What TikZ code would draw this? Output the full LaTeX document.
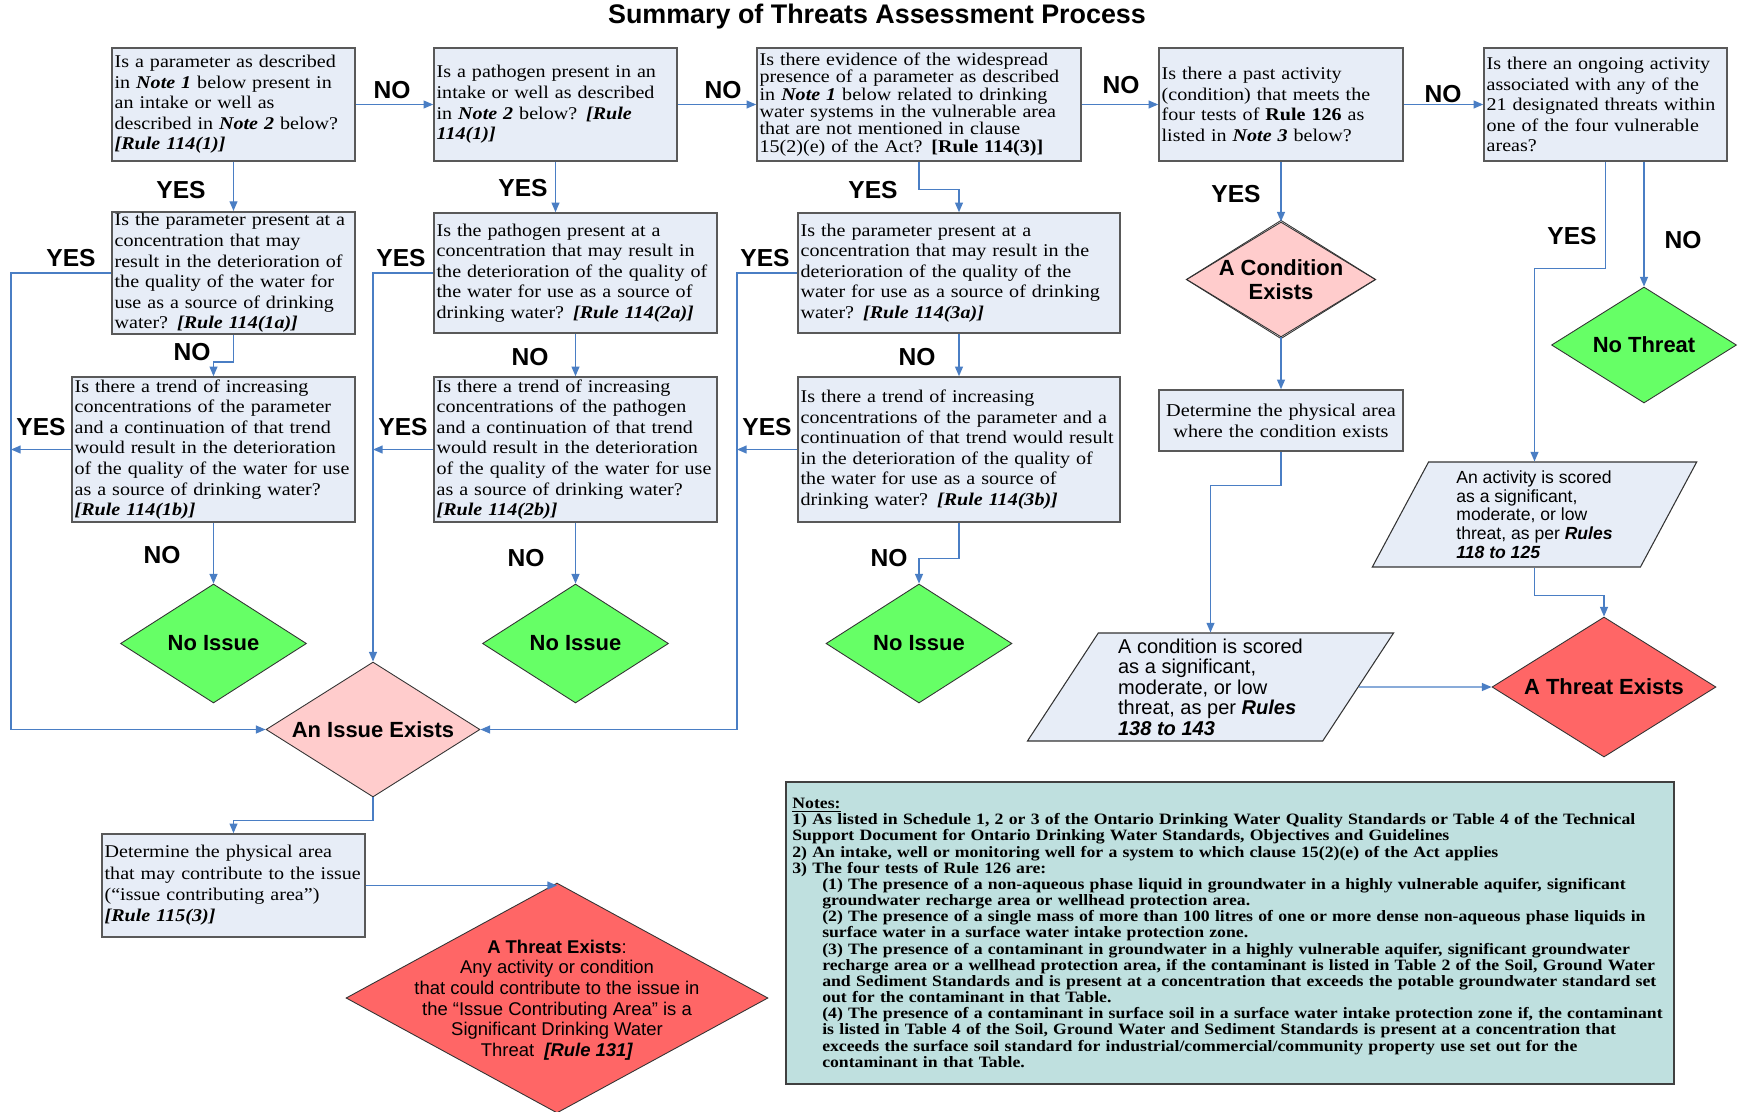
\documentclass[tikz,border=0pt]{standalone}
\usepackage{fontspec}
\setmainfont{Liberation Serif}[FakeStretch=1.12]
\setsansfont{Liberation Sans}
\usetikzlibrary{arrows.meta,shapes.geometric}
\definecolor{boxfill}{HTML}{E7EDF7}
\definecolor{linkblue}{HTML}{4A7EC4}
\definecolor{noissue}{HTML}{66FF66}
\definecolor{issuepink}{HTML}{FFCCCC}
\definecolor{threatred}{HTML}{FF6666}
\definecolor{notesfill}{HTML}{BFE0DF}
\newcommand\boldit[1]{\textbf{\textit{#1}}}
\newcommand\ind{\hspace*{17pt}}
\tikzset{
  qbox/.style={draw=black!65, line width=0.9pt, fill=boxfill, align=left,
    font=\fontsize{10.2}{11.7}\selectfont, inner xsep=1.5pt, inner ysep=1pt},
  dia/.style={diamond, draw=black!80, line width=0.5pt, aspect=1.6,
    inner sep=0pt, font=\sffamily\bfseries\fontsize{12.5}{14}\selectfont},
  diatext/.style={align=center, inner sep=0pt},
  para/.style={trapezium, trapezium stretches=true, draw=black!80,
    line width=0.6pt, fill=boxfill, align=left, inner sep=1pt},
  yn/.style={font=\sffamily\bfseries\fontsize{14}{14}\selectfont, inner sep=0pt},
  arrw/.style={-{Triangle[length=5.5pt, width=4.5pt]}, draw=linkblue,
    line width=0.8pt},
}
\begin{document}
\begin{tikzpicture}[x=0.02cm, y=-0.02cm]
  \useasboundingbox (0,0) rectangle (1738,1112);

  \node[font=\sffamily\bfseries\fontsize{15.3}{15}\selectfont] (title) at (877,17)
    {Summary of Threats Assessment Process};

  % first row of questions
  \node[qbox, text width=4.755cm, minimum height=2.26cm] (param) at (233.5,104.5)
    {Is a parameter as described\\ in \boldit{Note 1} below present in\\
     an intake or well as\\ described in \boldit{Note 2} below?\\
     \boldit{[Rule 114(1)]}};
  \node[qbox, text width=4.755cm, minimum height=2.26cm] (patho) at (555.5,104.5)
    {Is a pathogen present in an\\ intake or well as described\\
     in \boldit{Note 2} below? \boldit{[Rule}\\ \boldit{114(1)]}};
  \node[qbox, text width=6.375cm, minimum height=2.26cm,
    font=\fontsize{10.2}{9.9}\selectfont] (wide) at (919,104.5)
    {Is there evidence of the widespread\\ presence of a parameter as described\\
     in \boldit{Note 1} below related to drinking\\ water systems in the vulnerable area\\
     that are not mentioned in clause\\ 15(2)(e) of the Act? \textbf{[Rule 114(3)]}};
  \node[qbox, text width=4.775cm, minimum height=2.26cm] (past) at (1281,104.5)
    {Is there a past activity\\ (condition) that meets the\\
     four tests of \textbf{Rule 126} as\\ listed in \boldit{Note 3} below?};
  \node[qbox, text width=4.755cm, minimum height=2.26cm] (ongoing) at (1605.5,104.5)
    {Is there an ongoing activity\\ associated with any of the\\
     21 designated threats within\\ one of the four vulnerable\\ areas?};

  % concentration questions
  \node[qbox, text width=4.755cm, minimum height=2.4cm] (paramconc) at (233.5,273)
    {Is the parameter present at a\\ concentration that may\\
     result in the deterioration of\\ the quality of the water for\\
     use as a source of drinking\\ water? \boldit{[Rule 114(1a)]}};
  \node[qbox, text width=5.555cm, minimum height=2.4cm] (pathoconc) at (575.5,273)
    {Is the pathogen present at a\\ concentration that may result in\\
     the deterioration of the quality of\\ the water for use as a source of\\
     drinking water? \boldit{[Rule 114(2a)]}};
  \node[qbox, text width=6.335cm, minimum height=2.4cm] (wideconc) at (959,273)
    {Is the parameter present at a\\ concentration that may result in the\\
     deterioration of the quality of the\\ water for use as a source of drinking\\
     water? \boldit{[Rule 114(3a)]}};

  % trend questions
  \node[qbox, text width=5.555cm, minimum height=2.9cm] (paramtrend) at (213.5,449.5)
    {Is there a trend of increasing\\ concentrations of the parameter\\
     and a continuation of that trend\\ would result in the deterioration\\
     of the quality of the water for use\\ as a source of drinking water?\\
     \boldit{[Rule 114(1b)]}};
  \node[qbox, text width=5.555cm, minimum height=2.9cm] (pathotrend) at (575.5,449.5)
    {Is there a trend of increasing\\ concentrations of the pathogen\\
     and a continuation of that trend\\ would result in the deterioration\\
     of the quality of the water for use\\ as a source of drinking water?\\
     \boldit{[Rule 114(2b)]}};
  \node[qbox, text width=6.335cm, minimum height=2.9cm] (widetrend) at (959,449.5)
    {Is there a trend of increasing\\ concentrations of the parameter and a\\
     continuation of that trend would result\\ in the deterioration of the quality of\\
     the water for use as a source of\\ drinking water? \boldit{[Rule 114(3b)]}};

  % outcomes
  \node[dia, fill=noissue, minimum width=3.72cm, minimum height=2.38cm] (noissueA) at (213.5,643.5) {No Issue};
  \node[dia, fill=noissue, minimum width=3.72cm, minimum height=2.38cm] (noissueB) at (575.5,643.5) {No Issue};
  \node[dia, fill=noissue, minimum width=3.72cm, minimum height=2.38cm] (noissueC) at (919,643.5) {No Issue};
  \node[dia, fill=issuepink, minimum width=4.28cm, minimum height=2.7cm] (issue) at (373,729.5) {An Issue Exists};
  \node[dia, fill=issuepink, minimum width=3.78cm, minimum height=2.3cm] (cond) at (1281,279.5) {};
  \node[dia, diatext] (condtxt) at (cond) {A Condition\\Exists};
  \node[dia, fill=noissue, minimum width=3.7cm, minimum height=2.32cm] (nothreat) at (1644,345) {No Threat};
  \node[dia, fill=threatred, minimum width=4.48cm, minimum height=2.8cm] (threat) at (1604,687) {A Threat Exists};
  \node[dia, fill=threatred, minimum width=8.44cm, minimum height=4.6cm] (bigthreat) at (557,998) {};
  \node[diatext, font=\sffamily\fontsize{10.5}{11.7}\selectfont] (bigtxt) at (557,1000)
    {\textbf{A Threat Exists}:\\ Any activity or condition\\
     that could contribute to the issue in\\ the “Issue Contributing Area” is a\\
     Significant Drinking Water\\ Threat\ \ \boldit{[Rule 131]}};

  % areas and scoring
  \node[qbox, align=center, text width=4.775cm, minimum height=1.22cm,
    font=\fontsize{10.3}{12}\selectfont] (condarea) at (1281,420.5)
    {Determine the physical area\\ where the condition exists};
  \node[qbox, text width=5.155cm, minimum height=2.06cm,
    font=\fontsize{10.2}{12.2}\selectfont] (issuearea) at (233.5,885.5)
    {Determine the physical area\\ that may contribute to the issue\\
     (“issue contributing area”)\\ \boldit{[Rule 115(3)]}};
  \node[para, trapezium left angle=65, trapezium right angle=115, minimum width=6.5cm,
    minimum height=2.1cm, font=\sffamily\fontsize{10}{10.6}\selectfont] (actscore) at (1534.5,514.5)
    {An activity is scored\\ as a significant,\\ moderate, or low\\
     threat, as per \boldit{Rules}\\ \boldit{118 to 125}};
  \node[para, trapezium left angle=59.4, trapezium right angle=120.6, minimum width=7.34cm,
    minimum height=2.16cm, font=\sffamily\fontsize{11.4}{11.7}\selectfont] (condscore) at (1210.5,687)
    {A condition is scored\\ as a significant,\\ moderate, or low\\
     threat, as per \boldit{Rules}\\ \boldit{138 to 143}};

  % notes
  \node[draw=black!75, line width=1pt, fill=notesfill, anchor=north west, align=left,
    font=\bfseries\fontsize{9}{9.2}\selectfont, inner xsep=3pt, text width=17.5cm,
    minimum width=17.76cm, minimum height=6.04cm] (notes) at (785,781)
    {\underline{Notes:}\\
     1) As listed in Schedule 1, 2 or 3 of the Ontario Drinking Water Quality Standards or Table 4 of the Technical\\
     Support Document for Ontario Drinking Water Standards, Objectives and Guidelines\\
     2) An intake, well or monitoring well for a system to which clause 15(2)(e) of the Act applies\\
     3) The four tests of Rule 126 are:\\
     \ind(1) The presence of a non-aqueous phase liquid in groundwater in a highly vulnerable aquifer, significant\\
     \ind groundwater recharge area or wellhead protection area.\\
     \ind(2) The presence of a single mass of more than 100 litres of one or more dense non-aqueous phase liquids in\\
     \ind surface water in a surface water intake protection zone.\\
     \ind(3) The presence of a contaminant in groundwater in a highly vulnerable aquifer, significant groundwater\\
     \ind recharge area or a wellhead protection area, if the contaminant is listed in Table 2 of the Soil, Ground Water\\
     \ind and Sediment Standards and is present at a concentration that exceeds the potable groundwater standard set\\
     \ind out for the contaminant in that Table.\\
     \ind(4) The presence of a contaminant in surface soil in a surface water intake protection zone if, the contaminant\\
     \ind is listed in Table 4 of the Soil, Ground Water and Sediment Standards is present at a concentration that\\
     \ind exceeds the surface soil standard for industrial/commercial/community property use set out for the\\
     \ind contaminant in that Table.};

  \coordinate (lrail) at (11,0);
  \coordinate (rrail) at (737,0);

  % NO along the top
  \draw[arrw] (param) -- (patho);
  \draw[arrw] (patho) -- (wide);
  \draw[arrw] (wide) -- (past);
  \draw[arrw] (past) -- (ongoing);
  \node[yn] (no1) at (392,90) {NO};
  \node[yn] (no2) at (723,90) {NO};
  \node[yn] (no3) at (1121,85) {NO};
  \node[yn] (no4) at (1443,94) {NO};

  % YES down from the top
  \draw[arrw] (param) -- (paramconc);
  \draw[arrw] (patho.south) -- (patho.south |- pathoconc.north);
  \draw[arrw] (wide.south) -- ++(0,28) -| (wideconc.north);
  \draw[arrw] (past) -- (cond);
  \draw[arrw] (ongoing.south) -- ++(0,107) -| (actscore.center |- actscore.north);
  \draw[arrw] (ongoing.south -| nothreat.north) -- (nothreat.north);
  \node[yn] (yes1) at (181,190) {YES};
  \node[yn] (yes2) at (523,188) {YES};
  \node[yn] (yes3) at (873,190) {YES};
  \node[yn] (yes4) at (1236,194) {YES};
  \node[yn] (yes5) at (1572,236) {YES};
  \node[yn] (no5) at (1683,240) {NO};

  % concentration -> issue / trend
  \draw[arrw] (paramconc.west) -| (lrail |- issue) -- (issue.west);
  \draw[arrw] (pathoconc.west) -| (issue.north);
  \draw[arrw] (wideconc.west) -| (rrail |- issue) -- (issue.east);
  \draw[arrw] (paramconc.south) -- ++(0,27) -| (paramtrend.north);
  \draw[arrw] (pathoconc) -- (pathotrend);
  \draw[arrw] (wideconc) -- (widetrend);
  \node[yn] (yes6) at (71,258) {YES};
  \node[yn] (yes7) at (401,258) {YES};
  \node[yn] (yes8) at (765,258) {YES};
  \node[yn] (no6) at (192,352) {NO};
  \node[yn] (no7) at (530,357) {NO};
  \node[yn] (no8) at (917,357) {NO};

  % trend -> rails / no issue
  \draw[arrw] (paramtrend.west) -- (paramtrend.west -| lrail);
  \draw[arrw] (pathotrend.west) -- (pathotrend.west -| issue.north);
  \draw[arrw] (widetrend.west) -- (widetrend.west -| rrail);
  \draw[arrw] (paramtrend) -- (noissueA);
  \draw[arrw] (pathotrend) -- (noissueB);
  \draw[arrw] (widetrend.south) -- ++(0,36) -| (noissueC.north);
  \node[yn] (yes9) at (41,427) {YES};
  \node[yn] (yes10) at (403,427) {YES};
  \node[yn] (yes11) at (767,427) {YES};
  \node[yn] (no9) at (162,555) {NO};
  \node[yn] (no10) at (526,558) {NO};
  \node[yn] (no11) at (889,558) {NO};

  % issue branch
  \draw[arrw] (issue.south) -- ++(0,23) -| (issuearea.north);
  \draw[arrw] (issuearea.east) -- (issuearea.east -| bigthreat.north);

  % condition and activity branch
  \draw[arrw] (cond) -- (condarea);
  \draw[arrw] (condarea.south) -- ++(0,34) -| (condscore.center |- condscore.north);
  \draw[arrw] (condscore.east) -- (threat.west);
  \draw[arrw] (actscore.center |- actscore.south) -- ++(0,28) -| (threat.north);
\end{tikzpicture}
\end{document}
